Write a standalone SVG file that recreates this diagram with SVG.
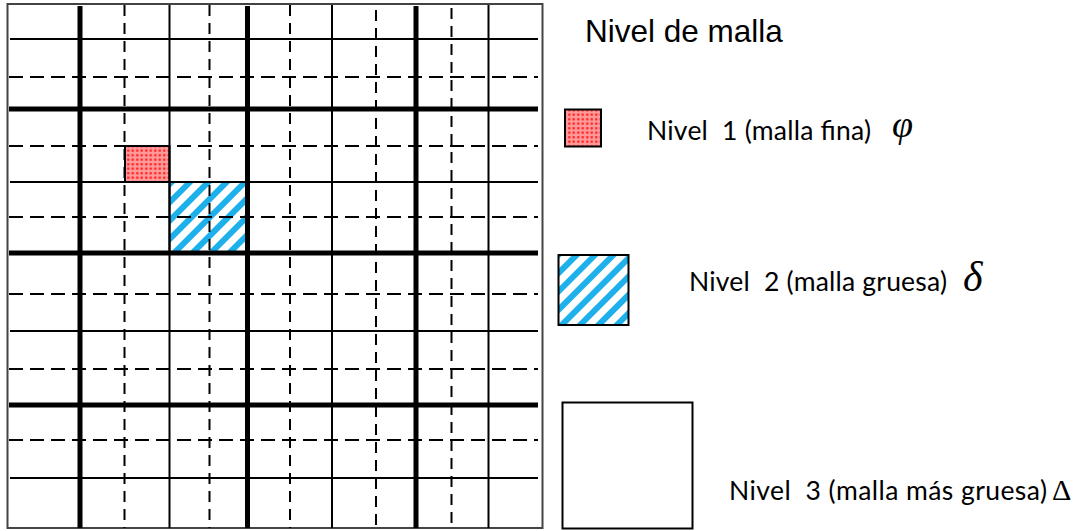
<svg xmlns="http://www.w3.org/2000/svg" width="1089" height="531" viewBox="0 0 1089 531">
  <style>
    .thin { stroke: #000; stroke-width: 2; fill: none; }
    .thick { stroke: #000; stroke-width: 5; fill: none; }
    .dh { stroke: #000; stroke-width: 2; stroke-dasharray: 14 7; fill: none; }
    .dv { stroke: #000; stroke-width: 2; stroke-dasharray: 11 7; fill: none; }
    .box { stroke: #000; stroke-width: 2; }
    .title { font-family: "Liberation Sans", Arial, sans-serif; font-size: 31.5px; fill: #000; }
    .lbl { font-family: Lato, "Open Sans", sans-serif; font-size: 26.5px; fill: #000; white-space: pre; }
    .sym { font-family: "Liberation Serif", "DejaVu Serif", serif; fill: #000; }
  </style>
  <defs>
    <pattern id="dots" patternUnits="userSpaceOnUse" width="4.5" height="4.5">
      <rect width="4.5" height="4.5" fill="#ff9a9a"/>
      <circle cx="2.25" cy="2.25" r="1.3" fill="#ff2525"/>
    </pattern>
    <pattern id="stripes" patternUnits="userSpaceOnUse" width="13" height="13" patternTransform="rotate(45)">
      <rect width="13" height="13" fill="#ffffff"/>
      <rect width="6" height="13" fill="#1eb0ea"/>
    </pattern>
  </defs>
  <rect width="1089" height="531" fill="#ffffff"/>

  <g id="grid">
    <rect x="7.5" y="4" width="535" height="524" fill="#ffffff" stroke="#444" stroke-width="2"/>
    <g id="cell-fine">
      <rect x="125" y="146" width="44.5" height="36" fill="url(#dots)" class="box"/>
    </g>
    <g id="cell-coarse">
      <rect x="169.5" y="182" width="78" height="71" fill="url(#stripes)" class="box"/>
    </g>
    <g id="grid-lines">
      <line class="dh" x1="9" y1="77" x2="538" y2="77"/>
      <line class="dh" x1="9" y1="146" x2="538" y2="146"/>
      <line class="dh" x1="9" y1="217" x2="538" y2="217"/>
      <line class="dh" x1="9" y1="294" x2="538" y2="294"/>
      <line class="dh" x1="9" y1="369" x2="538" y2="369"/>
      <line class="dh" x1="9" y1="440" x2="538" y2="440"/>
      <line class="dv" x1="124.5" y1="5" x2="124.5" y2="528"/>
      <line class="dv" x1="209.5" y1="5" x2="209.5" y2="528"/>
      <line class="dv" x1="290" y1="5" x2="290" y2="528"/>
      <line class="dv" x1="376" y1="10" x2="376" y2="528"/>
      <line class="dv" x1="451.5" y1="8" x2="451.5" y2="528"/>
      <line class="thin" x1="10" y1="39" x2="538" y2="39"/>
      <line class="thin" x1="10" y1="182" x2="538" y2="182"/>
      <line class="thin" x1="10" y1="331" x2="538" y2="331"/>
      <line class="thin" x1="10" y1="478" x2="538" y2="478"/>
      <line class="thin" x1="169.5" y1="5" x2="169.5" y2="528"/>
      <line class="thin" x1="332" y1="5" x2="332" y2="528"/>
      <line class="thin" x1="488.5" y1="5" x2="488.5" y2="528"/>
      <line class="thick" x1="9" y1="109" x2="538" y2="109"/>
      <line class="thick" x1="9" y1="253" x2="538" y2="253"/>
      <line class="thick" x1="9" y1="405" x2="538" y2="405"/>
      <line class="thick" x1="80" y1="6" x2="80" y2="528"/>
      <line class="thick" x1="247.5" y1="6" x2="247.5" y2="528"/>
      <line class="thick" x1="416" y1="6" x2="416" y2="528"/>
    </g>
  </g>

  <g id="legend-title">
    <text class="title" x="585" y="42">Nivel de malla</text>
  </g>
  <g id="legend-level1">
    <rect x="565" y="109.5" width="36" height="37" fill="url(#dots)" class="box"/>
    <text class="lbl" x="647" y="140" textLength="224">Nivel  1 (malla fina)</text>
    <text class="sym" x="892" y="137" font-size="38" font-style="italic">φ</text>
  </g>
  <g id="legend-level2">
    <rect x="558.5" y="255" width="70" height="70" fill="url(#stripes)" class="box"/>
    <text class="lbl" x="689" y="290.5" textLength="258">Nivel  2 (malla gruesa)</text>
    <text class="sym" x="963" y="290.5" font-size="42" font-style="italic">δ</text>
  </g>
  <g id="legend-level3">
    <rect x="562.5" y="402.5" width="130" height="126" fill="#ffffff" class="box"/>
    <text class="lbl" x="729" y="500" textLength="318">Nivel  3 (malla más gruesa)</text>
    <text class="sym" x="1052" y="500" font-size="30">Δ</text>
  </g>
</svg>
